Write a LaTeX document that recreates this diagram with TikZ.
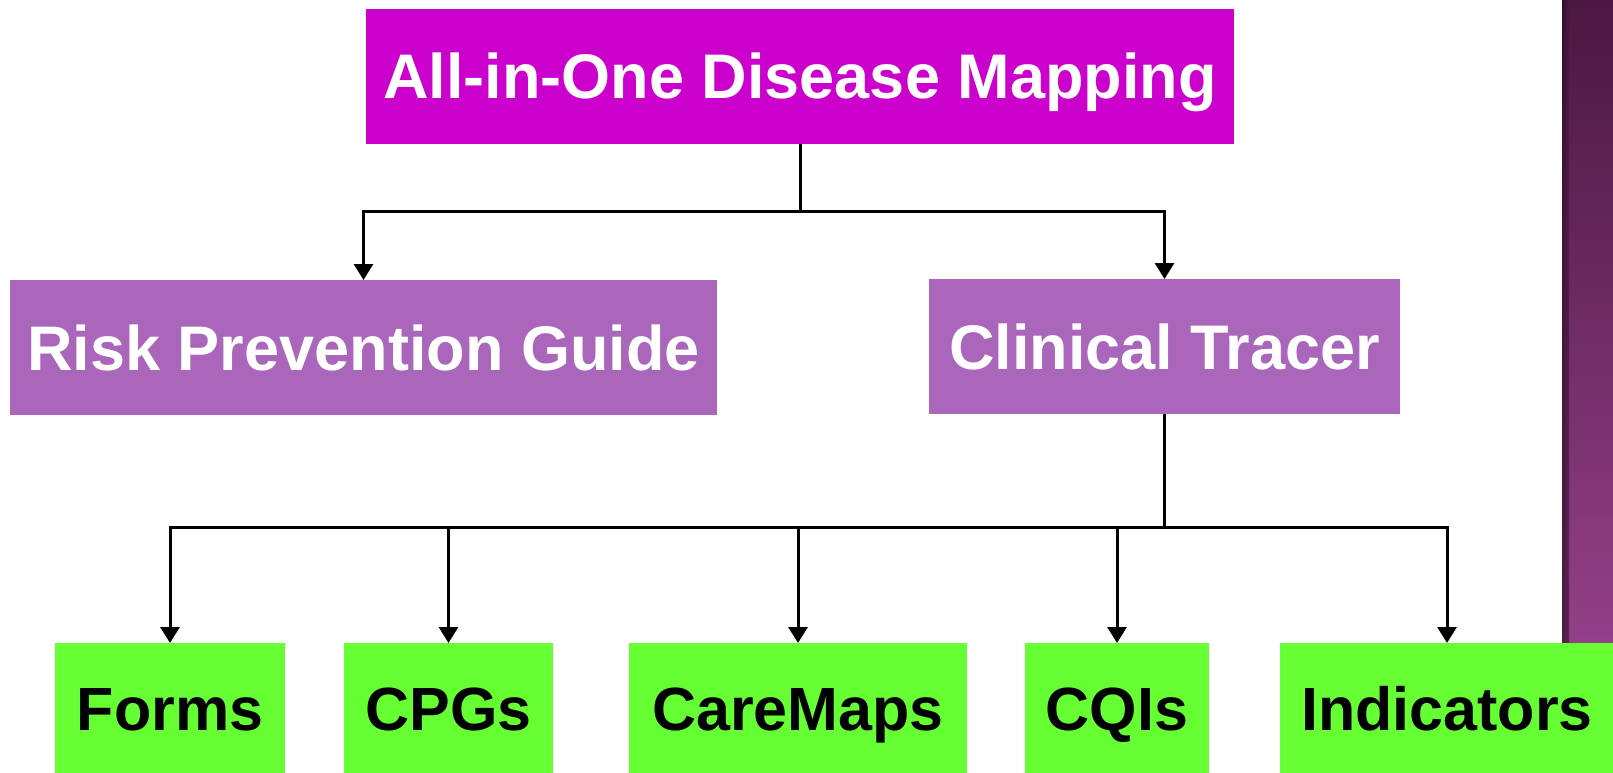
\documentclass[tikz,border=0pt]{standalone}
\usepackage{fontspec}
\setmainfont{Liberation Sans}
\usetikzlibrary{arrows.meta}
\definecolor{topfill}{HTML}{CC00CC}
\definecolor{midfill}{HTML}{AA66BB}
\definecolor{leaffill}{HTML}{66FF33}
\definecolor{stripdark}{HTML}{4A1840}
\definecolor{striplight}{HTML}{934088}
\begin{document}
\begin{tikzpicture}[x=1pt,y=-1pt,
  box/.style={anchor=north west, inner sep=0pt, outer sep=0pt, text height=45pt, text depth=0pt},
  topbox/.style={box, fill=topfill, text=white},
  midbox/.style={box, fill=midfill, text=white},
  leafbox/.style={box, fill=leaffill, text=black, text height=44pt},
  conn/.style={draw=black, line width=3pt, -{Triangle[width=19pt,length=16pt]}}]
\useasboundingbox (0,0) rectangle (1613,773);
\fill[white] (0,0) rectangle (1613,773);
% decorative slide strip on the right
\shade[top color=stripdark, bottom color=striplight] (1562,0) rectangle (1613,643);
\shade[left color=stripdark!60!black, right color=stripdark, opacity=0.7] (1562,0) rectangle (1569,643);

% top level
\node[topbox, minimum width=868pt, minimum height=135pt,
  font=\bfseries\fontsize{63}{70}\selectfont] (top) at (366,9) {All-in-One Disease Mapping};

% second level
\node[midbox, minimum width=707pt, minimum height=135pt,
  font=\bfseries\fontsize{63}{70}\selectfont] (risk) at (10,280) {Risk Prevention Guide};
\node[midbox, minimum width=471pt, minimum height=135pt,
  font=\bfseries\fontsize{63}{70}\selectfont] (ct) at (929,279) {Clinical Tracer};

% third level
\tikzset{leaffont/.style={font=\bfseries\fontsize{61}{68}\selectfont}}
\node[leafbox, leaffont, minimum width=230pt, minimum height=131pt] (forms) at (55,643) {Forms};
\node[leafbox, leaffont, minimum width=209pt, minimum height=131pt] (cpgs) at (344,643) {CPGs};
\node[leafbox, leaffont, minimum width=338pt, minimum height=131pt] (care) at (629,643) {CareMaps};
\node[leafbox, leaffont, minimum width=184pt, minimum height=131pt] (cqis) at (1025,643) {CQIs};
\node[leafbox, leaffont, minimum width=334pt, minimum height=131pt] (ind) at (1280,643) {Indicators};

% connectors
\coordinate (busA) at (0,211);
\coordinate (busB) at (0,527);
\draw[conn] (top.south) -- (top.south |- busA) -| (risk.north);
\draw[conn] (top.south) -- (top.south |- busA) -| (ct.north);
\draw[conn] (ct.south) -- (ct.south |- busB) -| (forms.north);
\draw[conn] (ct.south) -- (ct.south |- busB) -| (cpgs.north);
\draw[conn] (ct.south) -- (ct.south |- busB) -| (care.north);
\draw[conn] (ct.south) -- (ct.south |- busB) -| (cqis.north);
\draw[conn] (ct.south) -- (ct.south |- busB) -| (ind.north);
\end{tikzpicture}
\end{document}
